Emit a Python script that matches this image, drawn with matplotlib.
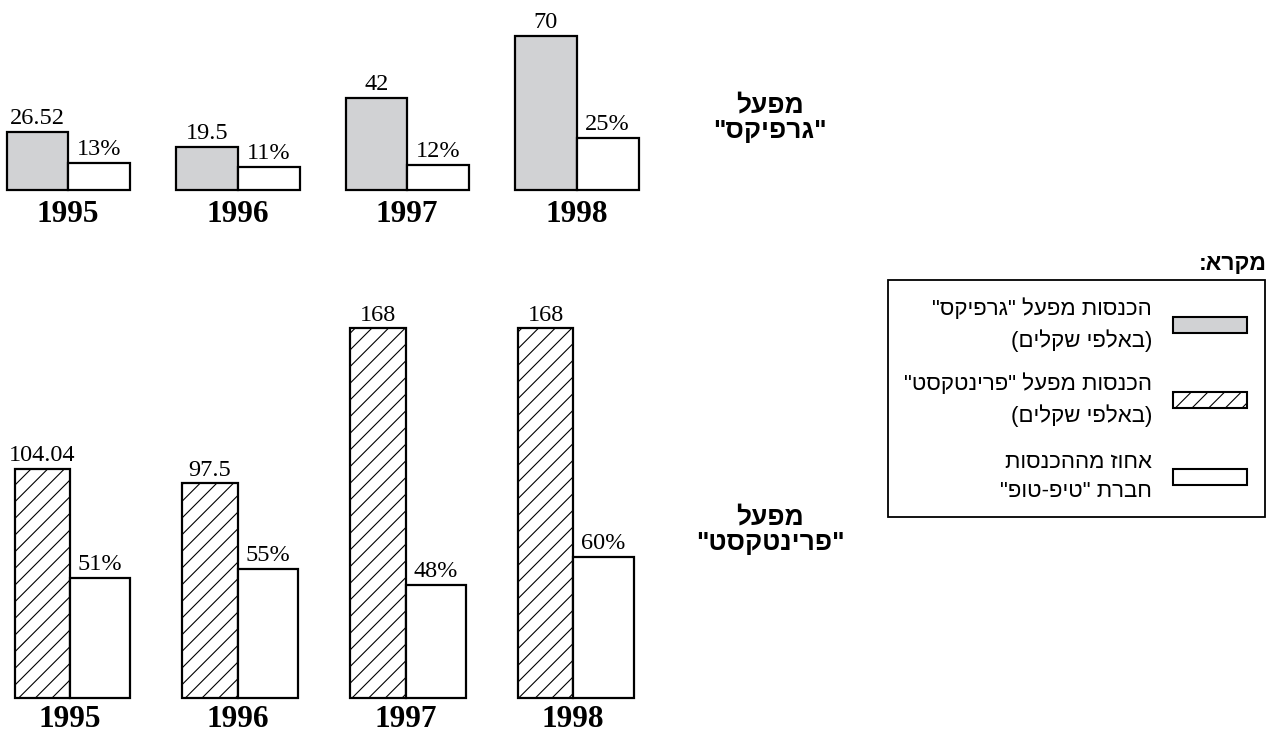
import numpy as np
import matplotlib.pyplot as plt
from matplotlib.patches import Rectangle

plt.rcParams['font.family'] = ['Liberation Serif', 'DejaVu Serif']
plt.rcParams['hatch.linewidth'] = 0.8

# data
years = ["1995", "1996", "1997", "1998"]
graphics_income = [26.52, 19.5, 42, 70]      # thousands of shekels
graphics_share = [13, 11, 12, 25]            # percent
printext_income = [104.04, 97.5, 168, 168]   # thousands of shekels
printext_share = [51, 55, 48, 60]            # percent

title_graphics = 'מפעל\n"גרפיקס"'
title_printext = 'מפעל\n"פרינטקסט"'
legend_title = "מקרא:"
legend_labels = ['הכנסות מפעל "גרפיקס"\n(באלפי שקלים)',
                 'הכנסות מפעל "פרינטקסט"\n(באלפי שקלים)',
                 'אחוז מההכנסות\nחברת "טיפ-טופ"']

GRAY = "#d1d2d4"
HEB = ['Liberation Sans', 'DejaVu Sans']


def rtl(s):
    # matplotlib has no bidi support, so flip each line by hand
    swap = {"(": ")", ")": "("}
    return "\n".join("".join(swap.get(c, c) for c in line[::-1])
                     for line in s.split("\n"))


W, H = 1272, 734
fig = plt.figure(figsize=(W / 100, H / 100), dpi=100)


def px_axes(left, base, width, height):
    # left / base (baseline measured from the top) in pixels
    return fig.add_axes([left / W, (H - base) / H, width / W, height / H])


def panel(ax, income, share, inc_style, w_inc, w_pct, inc_top, pct_top, pad):
    x = np.arange(len(years))
    ax.set_xlim(-0.4, 3.6)
    ax.set_ylim(0, inc_top)
    b1 = ax.bar(x, income, width=-w_inc, align='edge', edgecolor='black',
                linewidth=1.6, clip_on=False, **inc_style)
    ax.bar_label(b1, labels=[f"{v:g}" for v in income], padding=2, fontsize=17.5)

    ax2 = ax.twinx()
    ax2.set_ylim(0, pct_top)
    b2 = ax2.bar(x, share, width=w_pct, align='edge', facecolor='white',
                 edgecolor='black', linewidth=1.6, clip_on=False)
    ax2.bar_label(b2, labels=[f"{v}%" for v in share], padding=2, fontsize=17.5)

    for a in (ax, ax2):
        for s in a.spines.values():
            s.set_visible(False)
        a.set_yticks([])
    ax.set_xticks(x, years, fontsize=22.5, fontweight='bold')
    ax.tick_params(axis='x', length=0, pad=pad)


# top panel: "Graphics"
ax_top = px_axes(0.2, 190, 678, 170)
panel(ax_top, graphics_income, graphics_share, dict(facecolor=GRAY),
      0.36, 0.366, 170 / 2.2, 170 / 2.1, 7)

# bottom panel: "Printext"
ax_bot = px_axes(2.9, 698, 671, 388)
panel(ax_bot, printext_income, printext_share,
      dict(facecolor='white', hatch='//'),
      0.33, 0.36, 388 / 2.2, 388 / 2.35, 5)

fig.text(770 / W, 1 - 118 / H, rtl(title_graphics), family=HEB, fontsize=19,
         fontweight='bold', ha='center', va='center', multialignment='center',
         linespacing=1.1)
fig.text(770 / W, 1 - 530 / H, rtl(title_printext), family=HEB, fontsize=19,
         fontweight='bold', ha='center', va='center', multialignment='center',
         linespacing=1.1)

# legend box
fig.text(1267 / W, 1 - 264 / H, rtl(legend_title), family=HEB, fontsize=16.5,
         fontweight='bold', ha='right', va='center')
fig.add_artist(Rectangle((888 / W, 1 - 517 / H), 377 / W, 237 / H,
                         transform=fig.transFigure, facecolor='none',
                         edgecolor='black', linewidth=1.3))
swatches = [dict(facecolor=GRAY), dict(facecolor='white', hatch='//'),
            dict(facecolor='white')]
centers = [325, 400, 477]
for lab, sw, cy in zip(legend_labels, swatches, centers):
    fig.add_artist(Rectangle((1173 / W, 1 - (cy + 8) / H), 74 / W, 16 / H,
                             transform=fig.transFigure, edgecolor='black',
                             linewidth=1.5, **sw))
    fig.text(1152 / W, 1 - cy / H, rtl(lab), family=HEB, fontsize=16,
             ha='right', va='center', multialignment='right', linespacing=1.5)

fig.savefig("out.png", dpi=100)
